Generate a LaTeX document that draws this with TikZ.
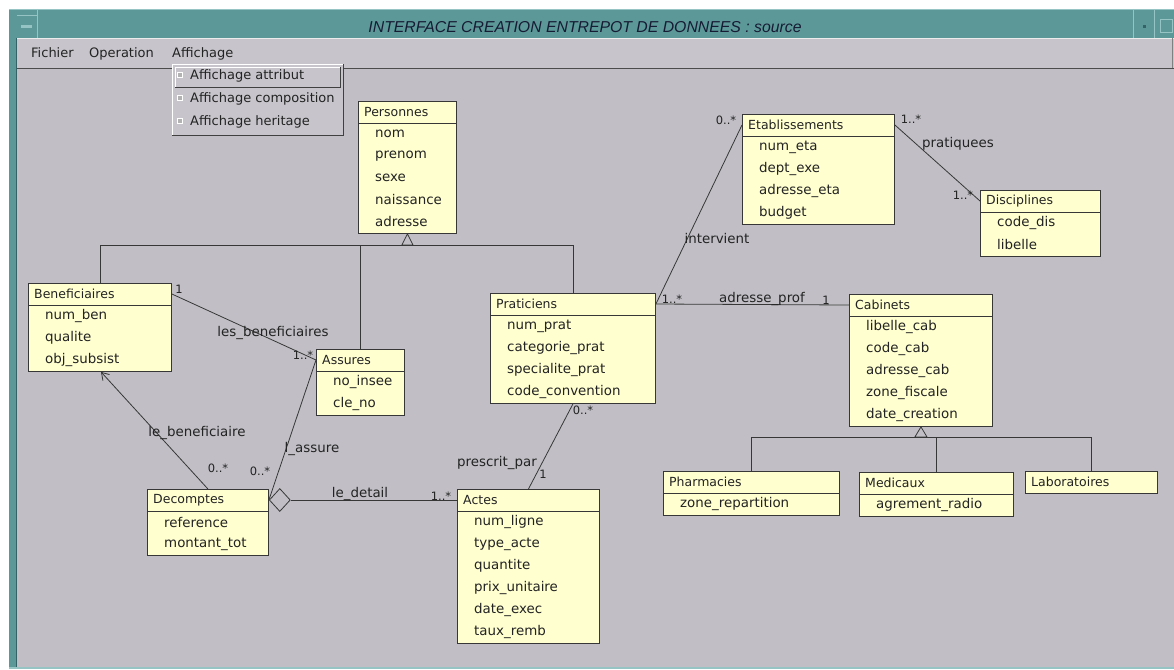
\documentclass[tikz,border=0pt]{standalone}
\usepackage{fontspec}
\setmainfont{DejaVu Sans}
\newfontfamily\titleFont{Liberation Sans}
\usepackage{tikz}
\usetikzlibrary{calc}
\usetikzlibrary{shapes.geometric}
\usetikzlibrary{arrows.meta}
\usepackage{xcolor}
\definecolor{canvasCol}{RGB}{193,191,197}
\definecolor{menuCol}{RGB}{199,197,203}
\definecolor{tealCol}{RGB}{92,152,152}
\definecolor{tealLight}{RGB}{150,196,196}
\definecolor{tealDark}{RGB}{52,98,102}
\definecolor{boxCol}{RGB}{255,255,208}
\definecolor{lineCol}{RGB}{55,55,55}
\definecolor{txtCol}{RGB}{35,35,35}
\definecolor{titleCol}{RGB}{22,28,52}
\def\fHead{\fontsize{12.5}{14}\selectfont}
\def\fAttr{\fontsize{13.4}{15}\selectfont}
\def\fMult{\fontsize{11.5}{13}\selectfont}
\def\fMenu{\fontsize{13}{15}\selectfont}
\def\rowH{22}
\tikzset{cls/.style={draw=lineCol,fill=boxCol,line width=0.9pt,inner sep=0,anchor=north west}}
\tikzset{assoc/.style={draw=lineCol,line width=0.8pt}}
\tikzset{head/.style={font=\fHead,text=txtCol,anchor=west,inner sep=0}}
\tikzset{attr/.style={font=\fAttr,text=txtCol,anchor=west,inner sep=0}}
\tikzset{lbl/.style={font=\fAttr,text=txtCol,inner sep=0}}
\tikzset{mult/.style={font=\fMult,text=txtCol,inner sep=0}}
\tikzset{menu/.style={font=\fMenu,text=txtCol,anchor=base west,inner sep=0}}
\tikzset{chk/.style={fill=gray!60,draw=white,line width=0.6pt,minimum size=5pt,inner sep=0}}
\newcommand{\classe}[7]{\node[cls,minimum width=#4,minimum height={\rowH*(#5+1)}] (#1) at (#2,#3) {};\draw[assoc] ($(#1.north west)+(0,\rowH)$)--($(#1.north east)+(0,\rowH)$);\node[head] (#1-t) at ($(#1.north west)+(6,11)$) {#6};\foreach\a [count=\i] in {#7}{\node[attr] (#1-\i) at ($(#1.north west)+(17,{11+\rowH*\i})$) {\a};}}

\begin{document}
\begin{tikzpicture}[x=1pt,y=-1pt]\useasboundingbox (0,0) rectangle (1174,669);
% fenetre
\fill[white] (0,0) rectangle (1174,669);
\fill[tealCol] (9,9) rectangle (1174,669);\draw[tealLight,line width=1pt] (9,9.5)--(1174,9.5);
\fill[menuCol] (17,38) rectangle (1174,68);\draw[white!85!gray,line width=1pt] (17,38.5)--(1174,38.5);
\fill[canvasCol] (17,68) rectangle (1174,667);\draw[gray!60!black,line width=1.5pt] (17,68.5)--(1174,68.5);
\draw[tealDark,line width=1pt] (16.5,38)--(16.5,667);\fill[tealLight] (9,667) rectangle (1174,669);
\draw[tealLight,line width=0.8pt] (37,9)--(37,38);\draw[tealLight,line width=0.8pt] (17,15)--(37,15);
\fill[tealLight] (21,25.5) rectangle (32,28.5);
\draw[tealLight,line width=0.8pt] (1133,9)--(1133,38);\draw[tealLight,line width=0.8pt] (1154,9)--(1154,38);
\fill[tealDark] (1143,25) rectangle (1146,28);\draw[tealLight,line width=1pt] (1160,20) rectangle (1172,33);
\draw[gray,line width=0.8pt] (1172,38)--(1172,68);
\node[font=\titleFont\itshape\fontsize{15.8}{18}\selectfont,text=titleCol,anchor=base,inner sep=0] (titre) at (585,32.5) {INTERFACE CREATION ENTREPOT DE DONNEES : source};
% menus
\node[menu] (fichier) at (31,58) {Fichier};\node[menu] (operation) at (89,58) {Operation};\node[menu] (affichage) at (172,58) {Affichage};
\fill[menuCol] (172,64) rectangle (343,135);\draw[white,line width=1pt] (172,135)--(172,64)--(343,64);\draw[gray!50!black,line width=1pt] (343,64)--(343,135)--(172,135);
\draw[white,line width=1pt] (175,87)--(175,67)--(340,67);\draw[gray!50!black,line width=1pt] (340,67)--(340,87)--(175,87);
\foreach\t [count=\i] in {Affichage attribut,Affichage composition,Affichage heritage}{\node[chk] (chk\i) at (180,{75+23*(\i-1)}) {};\node[menu] (item\i) at (190,{79+23*(\i-1)}) {\t};}
% classes
\classe{personnes}{358}{101}{98}{5}{Personnes}{nom,prenom,sexe,naissance,adresse}
\classe{benef}{28}{283}{143}{3}{Beneficiaires}{num\_ben,qualite,obj\_subsist}
\classe{assures}{316}{349}{88}{2}{Assures}{no\_insee,cle\_no}
\classe{praticiens}{490}{293}{165}{4}{Praticiens}{num\_prat,categorie\_prat,specialite\_prat,code\_convention}
\classe{etab}{742}{114}{152}{4}{Etablissements}{num\_eta,dept\_exe,adresse\_eta,budget}
\classe{discip}{980}{190}{120}{2}{Disciplines}{code\_dis,libelle}
\classe{cabinets}{849}{294}{143}{5}{Cabinets}{libelle\_cab,code\_cab,adresse\_cab,zone\_fiscale,date\_creation}
\classe{pharma}{663}{471}{176}{1}{Pharmacies}{zone\_repartition}
\classe{medicaux}{859}{472}{154}{1}{Medicaux}{agrement\_radio}
\node[cls,minimum width=132,minimum height=\rowH] (labo) at (1025,471) {};\node[head] (labo-t) at ($(labo.north west)+(6,11)$) {Laboratoires};
\classe{decomptes}{147}{489}{121}{2}{Decomptes}{reference,montant\_tot}
\classe{actes}{457}{489}{142}{6}{Actes}{num\_ligne,type\_acte,quantite,prix\_unitaire,date\_exec,taux\_remb}
% heritage
\draw[assoc,fill=canvasCol] (personnes.south)--++(-5.5,11)--++(11,0)--cycle;\coordinate (genP) at ($(personnes.south)+(0,11)$);
\draw[assoc] (benef.north) |- (genP) -| (praticiens.north);\draw[assoc] (assures.north)--(assures.north |- genP);
\draw[assoc,fill=canvasCol] (cabinets.south)--++(-6,10)--++(12,0)--cycle;\coordinate (genC) at ($(cabinets.south)+(0,10)$);
\draw[assoc] (pharma.north) |- (genC) -| (labo.north);\draw[assoc] (medicaux.north)--(medicaux.north |- genC);
% associations
\node[diamond,draw=lineCol,fill=canvasCol,line width=0.8pt,minimum width=21,minimum height=23,inner sep=0,anchor=west] (agg) at ($(decomptes.north east)+(0,11)$) {};
\draw[assoc] ($(benef.north east)+(0,11)$)--($(assures.north west)+(0,11)$);
\draw[assoc] ($(assures.north west)+(0,11)$)--(agg.west);
\draw[assoc,-{Straight Barb[length=7pt,width=9pt]}] (decomptes.north)--($(benef.south west)+(73,0)$);
\draw[assoc] (agg.east)--($(actes.north west)+(0,11)$);
\draw[assoc] (actes.north)--(praticiens.south);
\draw[assoc] ($(praticiens.north east)+(0,11)$)--($(etab.north west)+(0,11)$);
\draw[assoc] ($(praticiens.north east)+(0,11)$)--($(cabinets.north west)+(0,11)$);
\draw[assoc] ($(etab.north east)+(0,11)$)--($(discip.north west)+(0,11)$);
% roles et multiplicites
\node[mult] (m1) at (179,289) {1};\node[lbl] (r1) at (273,333) {les\_beneficiaires};\node[mult] (m2) at (303,355) {1..*};
\node[lbl] (r2) at (197,433) {le\_beneficiaire};\node[mult] (m3) at (218,468) {0..*};
\node[lbl] (r3) at (312,449) {l\_assure};\node[mult] (m4) at (260,471) {0..*};
\node[lbl] (r4) at (360,494) {le\_detail};\node[mult] (m5) at (441,496) {1..*};
\node[lbl] (r5) at (497,463) {prescrit\_par};\node[mult] (m6) at (543,474) {1};\node[mult] (m7) at (583,410) {0..*};
\node[lbl] (r6) at (717,239) {intervient};\node[mult] (m8) at (726,120) {0..*};\node[mult] (m9) at (672,299) {1..*};
\node[lbl] (r7) at (762,299) {adresse\_prof};\node[mult] (m10) at (826,300) {1};
\node[mult] (m11) at (911,119) {1..*};\node[lbl] (r8) at (958,144) {pratiquees};\node[mult] (m12) at (963,195) {1..*};
\end{tikzpicture}
\end{document}
